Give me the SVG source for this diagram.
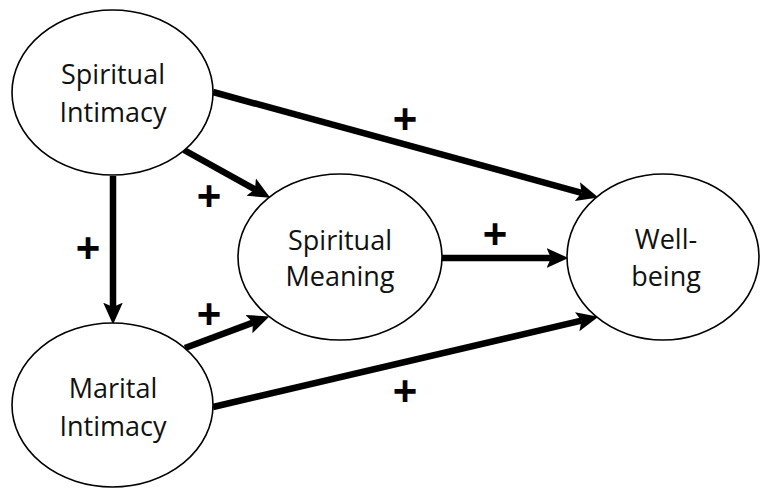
<svg xmlns="http://www.w3.org/2000/svg" width="760" height="489" viewBox="0 0 760 489">
<style>
.node ellipse{fill:#fff;stroke:#000;stroke-width:1.6}
.node text{font-family:"Open Sans","Liberation Sans",sans-serif;font-size:27px;fill:#111;text-anchor:middle}
.conn line{stroke:#000;stroke-width:6.5;fill:none;marker-end:url(#ah)}
.plus{font-family:"Liberation Sans",Arial,sans-serif;font-weight:bold;font-size:42px;fill:#000;text-anchor:middle}
</style>
<defs>
<marker id="ah" markerUnits="userSpaceOnUse" markerWidth="24" markerHeight="24" viewBox="0 -10 22 20" refX="4" refY="0" orient="auto">
<path d="M0,-9 L20,0 L0,9 L4,0 z" fill="#000"/>
</marker>
</defs>
<rect width="760" height="489" fill="#fff"/>
<g id="connectors" class="conn">
<line x1="213" y1="92" x2="581.6" y2="192.8"/>
<line x1="184" y1="150" x2="255" y2="189.3"/>
<line x1="113" y1="176" x2="113" y2="307"/>
<line x1="185" y1="348" x2="253" y2="322.6"/>
<line x1="213" y1="407" x2="581.4" y2="320.7"/>
<line x1="442" y1="258" x2="551" y2="258"/>
</g>
<g id="labels">
<text class="plus" x="405" y="133">+</text>
<text class="plus" x="209" y="210">+</text>
<text class="plus" x="88" y="262">+</text>
<text class="plus" x="209" y="328">+</text>
<text class="plus" x="495" y="248">+</text>
<text class="plus" x="405" y="405">+</text>
</g>
<g id="spiritual-intimacy" class="node">
<ellipse cx="112.5" cy="92.5" rx="100.5" ry="82.5"/>
<text x="113" y="84">Spiritual</text>
<text x="113" y="122">Intimacy</text>
</g>
<g id="marital-intimacy" class="node">
<ellipse cx="112.5" cy="405" rx="100.5" ry="82"/>
<text x="113" y="398">Marital</text>
<text x="113" y="436">Intimacy</text>
</g>
<g id="spiritual-meaning" class="node">
<ellipse cx="340" cy="257" rx="102" ry="83"/>
<text x="340" y="250">Spiritual</text>
<text x="340" y="286">Meaning</text>
</g>
<g id="well-being" class="node">
<ellipse cx="663" cy="257" rx="96" ry="83"/>
<text x="666" y="249">Well-</text>
<text x="666" y="286">being</text>
</g>
</svg>
